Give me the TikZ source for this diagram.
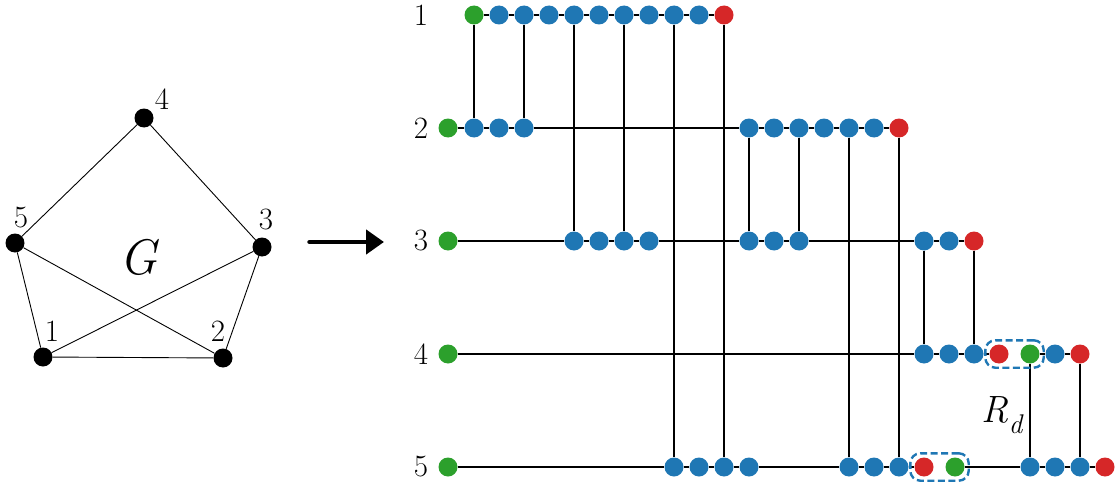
\documentclass[tikz,border=0pt]{standalone}
\usetikzlibrary{fit,arrows.meta}
\definecolor{tblue}{HTML}{1F77B4}
\definecolor{tgreen}{HTML}{2CA02C}
\definecolor{tred}{HTML}{D62728}
\begin{document}
\begin{tikzpicture}[x=1pt,y=-1pt,
  cdot/.style={circle,inner sep=0pt,minimum size=19pt},
  gd/.style={cdot,fill=tgreen},
  bd/.style={cdot,fill=tblue},
  rd/.style={cdot,fill=tred},
  wire/.style={line width=1.8pt,black},
  lab/.style={inner sep=0pt,font=\fontsize{31}{31}\selectfont},
  vert/.style={circle,fill=black,inner sep=0pt,minimum size=19pt},
  gedge/.style={line width=0.9pt},
  dbox/.style={draw=tblue,dash pattern=on 7pt off 3.5pt,line width=2.4pt,rounded corners=10pt,inner sep=4pt}
]
\useasboundingbox (0,0) rectangle (1117,487);

% ---------- graph G ----------
\node[vert] (g1) at (43,357) {};
\node[vert] (g2) at (223,358) {};
\node[vert] (g3) at (262,247) {};
\node[vert] (g4) at (144,118) {};
\node[vert] (g5) at (15,243) {};
\foreach \a/\b in {4/5,4/3,5/1,5/2,3/1,3/2,1/2}
  \draw[gedge] (g\a) -- (g\b);
\node[lab] (gl4) at (162,99) {4};
\node[lab] (gl5) at (21,218) {5};
\node[lab] (gl3) at (266,220) {3};
\node[lab] (gl1) at (52,331) {1};
\node[lab] (gl2) at (218,331) {2};
\node[inner sep=0pt,font=\fontsize{50}{50}\selectfont\itshape] (Glab) at (138,257) {G};

% ---------- arrow ----------
\coordinate (as) at (309.5,242);
\coordinate (ae) at (384,242);
\draw[line width=4.5pt,line cap=round,-{Triangle[length=18pt,width=24pt]}] (as) -- (ae);

% ---------- row labels ----------
\foreach \r/\y in {1/15,2/128,3/241,4/354,5/467}
  \node[lab] (row\r) at (421,\y) {\r};

% ---------- dots ----------
\foreach \x/\s in {474/gd,499/bd,524/bd,549/bd,574/bd,599/bd,624/bd,649/bd,674/bd,699/bd,724/rd}
  \node[\s] (n\x-1) at (\x,15) {};
\foreach \x/\s in {448/gd,474/bd,499/bd,524/bd,749/bd,774/bd,799/bd,824/bd,849/bd,874/bd,899/rd}
  \node[\s] (n\x-2) at (\x,128) {};
\foreach \x/\s in {448/gd,574/bd,599/bd,624/bd,649/bd,749/bd,774/bd,799/bd,924/bd,949/bd,974/rd}
  \node[\s] (n\x-3) at (\x,241) {};
\foreach \x/\s in {448/gd,924/bd,949/bd,974/bd,999/rd,1030/gd,1055/bd,1080/rd}
  \node[\s] (n\x-4) at (\x,354) {};
\foreach \x/\s in {448/gd,674/bd,699/bd,724/bd,749/bd,849/bd,874/bd,899/bd,924/rd,955/gd,1030/bd,1055/bd,1080/bd,1105/rd}
  \node[\s] (n\x-5) at (\x,467) {};

% ---------- horizontal wires ----------
\foreach \x [remember=\x as \lx (initially 474)] in {499,524,549,574,599,624,649,674,699,724}
  \draw[wire] (n\lx-1) -- (n\x-1);
\foreach \x [remember=\x as \lx (initially 448)] in {474,499,524,749,774,799,824,849,874,899}
  \draw[wire] (n\lx-2) -- (n\x-2);
\foreach \x [remember=\x as \lx (initially 448)] in {574,599,624,649,749,774,799,924,949,974}
  \draw[wire] (n\lx-3) -- (n\x-3);
\foreach \x [remember=\x as \lx (initially 448)] in {924,949,974,999}
  \draw[wire] (n\lx-4) -- (n\x-4);
\foreach \x [remember=\x as \lx (initially 1030)] in {1055,1080}
  \draw[wire] (n\lx-4) -- (n\x-4);
\foreach \x [remember=\x as \lx (initially 448)] in {674,699,724,749,849,874,899,924}
  \draw[wire] (n\lx-5) -- (n\x-5);
\foreach \x [remember=\x as \lx (initially 955)] in {1030,1055,1080,1105}
  \draw[wire] (n\lx-5) -- (n\x-5);

% ---------- vertical wires ----------
\foreach \p/\q/\x in {1/2/474,1/2/524,1/3/574,1/3/624,1/5/674,1/5/724,2/3/749,2/3/799,2/5/849,2/5/899,3/4/924,3/4/974,4/5/1030,4/5/1080}
  \draw[wire] (n\x-\p) -- (n\x-\q);

% ---------- dashed boxes ----------
\node[dbox,fit=(n999-4)(n1030-4)] (box4) {};
\node[dbox,fit=(n924-5)(n955-5)] (box5) {};

% ---------- R_d ----------
\node[inner sep=0pt,font=\fontsize{38}{38}\selectfont\itshape] (Rd) at (1002,415) {R\raisebox{-0.3em}{\fontsize{27}{27}\selectfont d}};
\end{tikzpicture}
\end{document}
